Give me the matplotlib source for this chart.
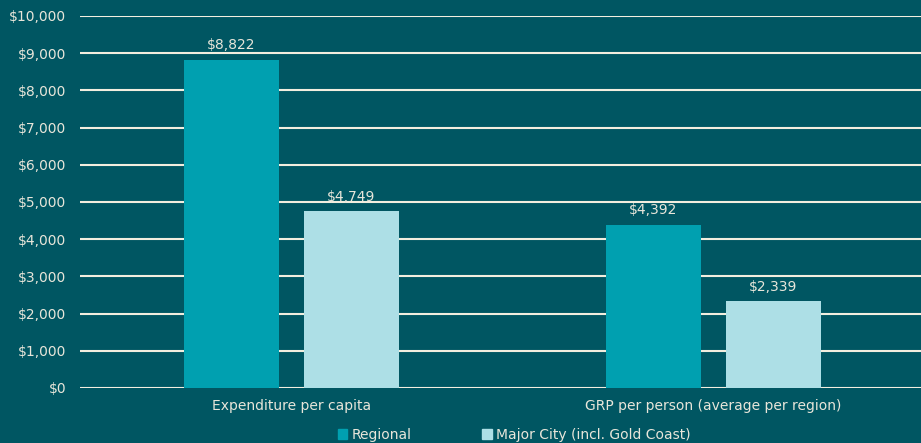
import matplotlib.pyplot as plt
import numpy as np
from matplotlib.patches import Patch

categories = ['Expenditure per capita', 'GRP per person (average per region)']
regional = [8822, 4392]
major_city = [4749, 2339]
series_names = ['Regional', 'Major City (incl. Gold Coast)']

bg = '#005662'
c_reg = '#00A0B0'
c_maj = '#ADDFE6'
txt = '#E8E6DA'
grid_c = '#F2EEDF'

fig = plt.figure(figsize=(9.21, 4.43), dpi=100, facecolor=bg)
ax = fig.add_axes([0.0869, 0.1242, 0.9131, 0.8397], facecolor=bg)

x = np.arange(len(categories))
w = 0.225
off = 0.142
b1 = ax.bar(x - off, regional, w, color=c_reg, zorder=3)
b2 = ax.bar(x + off, major_city, w, color=c_maj, zorder=3)

for bars, vals in ((b1, regional), (b2, major_city)):
    for b, v in zip(bars, vals):
        ax.text(b.get_x() + b.get_width() / 2, v + 200, f'${v:,}',
                ha='center', va='bottom', color=txt, fontsize=10)

ax.set_xlim(-0.501, 1.492)
ax.set_ylim(0, 10000)
ax.set_yticks(np.arange(0, 10001, 1000))
ax.set_yticklabels([f'${t:,}' for t in range(0, 10001, 1000)])
ax.set_xticks(x)
ax.set_xticklabels(categories)
ax.tick_params(colors=txt, labelsize=10, length=0)
ax.tick_params(axis='y', pad=10)
ax.tick_params(axis='x', pad=8)
ax.grid(axis='y', color=grid_c, linewidth=1.5, zorder=0)
for s in ax.spines.values():
    s.set_visible(False)

handles = [Patch(color=c_reg), Patch(color=c_maj)]
fig.legend(handles, series_names, loc='lower left', bbox_to_anchor=(0.353, -0.025),
           ncol=2, frameon=False, fontsize=10, labelcolor=txt,
           handlelength=0.7, handleheight=0.7, handletextpad=0.3, columnspacing=5.1)

fig.savefig('out.png', dpi=100, facecolor=bg)
